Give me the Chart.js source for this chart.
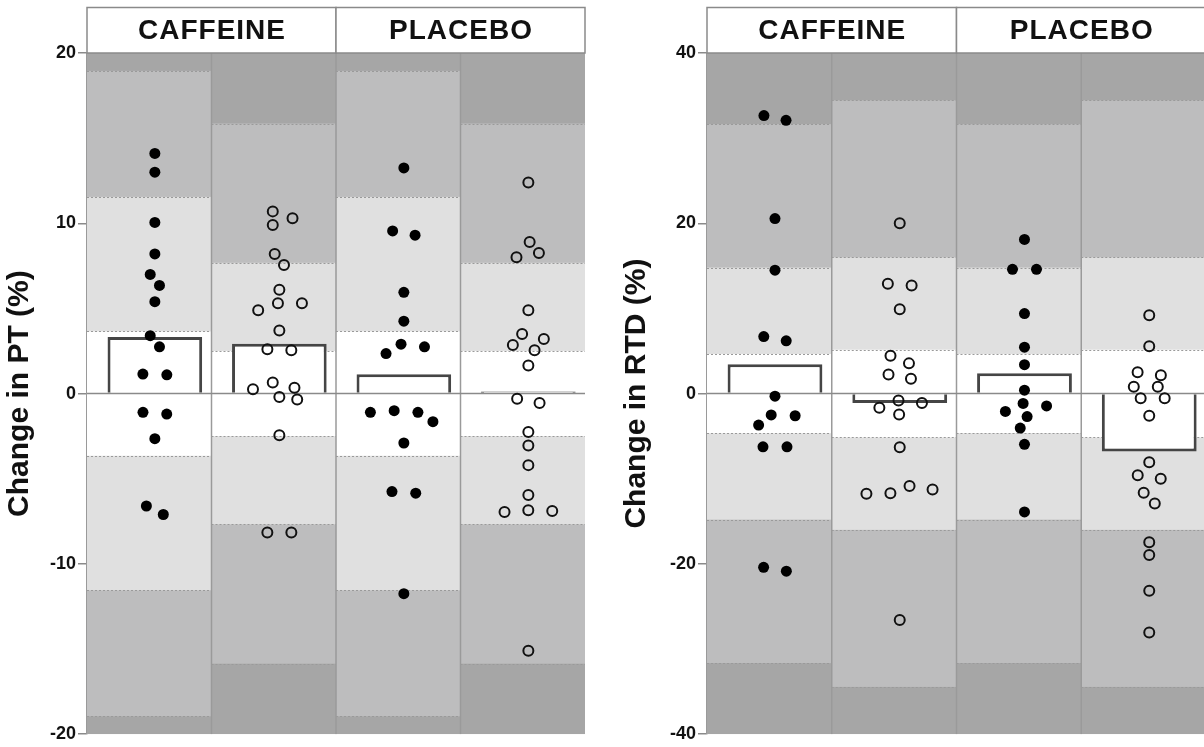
<!DOCTYPE html>
<html>
<head>
<meta charset="utf-8">
<script src="https://cdn.jsdelivr.net/npm/chart.js@4/dist/chart.umd.min.js"></script>
<style>
  html, body { margin:0; padding:0; background:#ffffff; width:1204px; height:747px; overflow:hidden; }
  canvas { position:absolute; top:0; }
  #pt { left:0; }
  #rtd { left:600px; }
</style>
</head>
<body>
<canvas id="pt" width="600" height="747"></canvas>
<canvas id="rtd" width="620" height="747"></canvas>
<script>
'use strict';

// ─── Data ─────────────────────────────────────────────────────────────────────

const groups = ['CAFFEINE', 'PLACEBO'];

// Change in PT (%)
const ptCaffeineFilled = [14.1, 13.0, 10.05, 8.2, 7.0, 6.35, 5.4, 3.4, 2.75, 1.1, 1.15, -1.1, -1.2, -2.65, -6.6, -7.1];
const ptCaffeineOpen   = [10.7, 10.3, 9.9, 8.2, 7.55, 6.1, 5.3, 5.3, 4.9, 3.7, 2.6, 2.55, 0.65, 0.25, 0.35, -0.2, -0.35, -2.45, -8.15, -8.15];
const ptPlaceboFilled  = [13.25, 9.55, 9.3, 5.95, 4.25, 2.9, 2.75, 2.35, -1.0, -1.1, -1.1, -1.65, -2.9, -5.75, -5.85, -11.75];
const ptPlaceboOpen    = [12.4, 8.9, 8.25, 8.0, 4.9, 3.5, 3.2, 2.85, 2.55, 1.65, -0.3, -0.55, -2.25, -3.05, -4.2, -5.95, -6.85, -6.9, -6.95, -15.1];
const ptMeans          = [3.32, 2.93, 1.13, 0.12];
const ptBandsFilled    = [3.65, 11.55, 18.95];
const ptBandsOpen      = [2.5, 7.68, 15.86];
const ptTicks          = [-20, -10, 0, 10, 20];

// Change in RTD (%)
const rtdCaffeineFilled = [32.65, 32.1, 20.55, 14.5, 6.7, 6.2, -0.3, -2.5, -2.6, -3.7, -6.25, -6.25, -20.4, -20.85];
const rtdCaffeineOpen   = [20.0, 12.9, 12.7, 9.9, 4.45, 3.55, 2.25, 1.75, -0.8, -1.1, -1.65, -2.45, -6.3, -10.85, -11.25, -11.7, -11.75, -26.6];
const rtdPlaceboFilled  = [18.1, 14.6, 14.6, 9.4, 5.45, 3.4, 0.4, -1.15, -1.45, -2.1, -2.7, -4.05, -5.95, -13.9];
const rtdPlaceboOpen    = [9.2, 5.55, 2.5, 2.15, 0.8, 0.8, -0.55, -0.55, -2.6, -8.05, -9.6, -10.0, -11.65, -12.9, -17.45, -18.95, -23.15, -28.05];
const rtdMeans          = [3.44, -1.1, 2.38, -6.8];
const rtdBandsFilled    = [4.65, 14.8, 31.65];
const rtdBandsOpen      = [5.15, 16.0, 34.45];
const rtdTicks          = [-40, -20, 0, 20, 40];

// ─── Style ────────────────────────────────────────────────────────────────────

const FONT = '"Liberation Sans", Arial, sans-serif';
const BAND_COLORS = ['#ffffff', '#e0e0e0', '#bdbdbe', '#a6a6a6'];
const LINE_GREY = '#9a9a9a';
const SHIFT = 0.045;          // marks sit a little right of the column centre
const SWARM_DX = 24;          // horizontal spacing of touching dots, px
const SWARM_DY = 12;          // vertical size of a dot, px

// ─── Beeswarm: spread overlapping dots sideways ───────────────────────────────

function swarm(chart) {
  const xs = chart.scales.x;
  const ys = chart.scales.y;
  const unit = xs.getPixelForValue(1) - xs.getPixelForValue(0);

  chart.data.datasets.forEach(ds => {
    if (ds.type !== 'scatter') return;
    const pts = ds.data.map(p => ({ p, py: ys.getPixelForValue(p.y), dx: 0 }));
    const placed = [];

    pts.slice().sort((a, b) => a.py - b.py).forEach(q => {
      const blocked = [];
      placed.forEach(o => {
        const dy = (q.py - o.py) / SWARM_DY;
        if (Math.abs(dy) < 1) {
          const w = SWARM_DX * Math.sqrt(1 - dy * dy);
          blocked.push([o.dx - w, o.dx + w]);
        }
      });
      const cands = [0];
      blocked.forEach(b => cands.push(b[0], b[1]));
      cands.sort((a, b) => Math.abs(a) - Math.abs(b) || b - a);
      q.dx = cands.find(c => blocked.every(b => c <= b[0] + 1e-6 || c >= b[1] - 1e-6));
      placed.push(q);
    });

    // centre every cluster of touching dots on the column
    const seen = new Set();
    placed.forEach(start => {
      if (seen.has(start)) return;
      const group = [start];
      seen.add(start);
      for (let k = 0; k < group.length; k++) {
        placed.forEach(o => {
          if (seen.has(o)) return;
          const a = (o.dx - group[k].dx) / SWARM_DX;
          const b = (o.py - group[k].py) / SWARM_DY;
          if (a * a + b * b < 1.05) { seen.add(o); group.push(o); }
        });
      }
      const mean = group.reduce((s, o) => s + o.dx, 0) / group.length;
      group.forEach(o => { o.dx -= mean; });
    });

    ds.data = pts.map(q => ({ x: q.p.x + q.dx / unit, y: q.p.y }));
  });
  chart.update('none');
}

// ─── Background bands, dividers, zero line, headers ───────────────────────────

function panelPlugin(bands) {
  return {
    id: 'panel',
    beforeDatasetsDraw(chart) {
      const { ctx, chartArea: a, scales: { x, y } } = chart;
      ctx.save();
      ctx.beginPath();
      ctx.rect(a.left, a.top, a.right - a.left, a.bottom - a.top);
      ctx.clip();
      bands.forEach((b, i) => {
        const x0 = x.getPixelForValue(i);
        const x1 = x.getPixelForValue(i + 1);
        ctx.fillStyle = BAND_COLORS[3];
        ctx.fillRect(x0, a.top, x1 - x0, a.bottom - a.top);
        for (let k = b.length - 1; k >= 0; k--) {
          const yt = y.getPixelForValue(b[k]);
          const yb = y.getPixelForValue(-b[k]);
          ctx.fillStyle = BAND_COLORS[k];
          ctx.fillRect(x0, yt, x1 - x0, yb - yt);
        }
        ctx.strokeStyle = LINE_GREY;
        ctx.lineWidth = 1;
        ctx.setLineDash([2, 2]);
        b.forEach(t => [t, -t].forEach(v => {
          const yy = Math.round(y.getPixelForValue(v)) + 0.5;
          ctx.beginPath();
          ctx.moveTo(x0, yy);
          ctx.lineTo(x1, yy);
          ctx.stroke();
        }));
        ctx.setLineDash([]);
      });
      ctx.strokeStyle = LINE_GREY;
      ctx.lineWidth = 1.5;
      for (let i = 1; i < bands.length; i++) {
        const xx = x.getPixelForValue(i);
        ctx.beginPath();
        ctx.moveTo(xx, a.top);
        ctx.lineTo(xx, a.bottom);
        ctx.stroke();
      }
      ctx.restore();
    },
    afterDatasetDraw(chart, args) {
      if (args.index !== 0) return;
      const { ctx, chartArea: a, scales: { y } } = chart;
      const y0 = y.getPixelForValue(0);
      ctx.save();
      ctx.strokeStyle = '#8a8a8a';
      ctx.lineWidth = 1.5;
      ctx.beginPath();
      ctx.moveTo(a.left, y0);
      ctx.lineTo(a.right, y0);
      ctx.stroke();
      ctx.restore();
    },
    afterDraw(chart) {
      const { ctx, chartArea: a, scales: { x } } = chart;
      const top = 7.5;
      ctx.save();
      groups.forEach((g, k) => {
        const x0 = x.getPixelForValue(2 * k);
        const x1 = x.getPixelForValue(2 * k + 2);
        ctx.fillStyle = '#ffffff';
        ctx.fillRect(x0, top, x1 - x0, a.top - top);
        ctx.strokeStyle = '#8a8a8a';
        ctx.lineWidth = 1.5;
        ctx.strokeRect(x0, top, x1 - x0, a.top - top);
        ctx.fillStyle = '#111111';
        ctx.font = `bold 28px ${FONT}`;
        ctx.letterSpacing = '1px';
        ctx.textAlign = 'center';
        ctx.textBaseline = 'middle';
        ctx.fillText(g, (x0 + x1) / 2 + 0.5, (top + a.top) / 2 + 1);
      });
      ctx.restore();
    },
  };
}

// ─── Panel builder ────────────────────────────────────────────────────────────

function makePanel(id, opts) {
  const datasets = [{
    type: 'bar',
    data: opts.means.map((m, i) => ({ x: i + 0.5 + SHIFT, y: m })),
    backgroundColor: '#ffffff',
    borderColor: '#454545',
    borderWidth: 3,
    barPercentage: 0.76,
    categoryPercentage: 1,
    order: 2,
  }];
  opts.columns.forEach((vals, i) => {
    const open = i % 2 === 1;
    datasets.push({
      type: 'scatter',
      data: vals.map(v => ({ x: i + 0.5 + SHIFT, y: v })),
      pointRadius: open ? 5 : 5.5,
      pointBackgroundColor: open ? 'rgba(0,0,0,0)' : '#000000',
      pointBorderColor: '#111111',
      pointBorderWidth: open ? 2 : 0,
      order: 1,
    });
  });

  const ticks = opts.ticks;
  const chart = new Chart(document.getElementById(id), {
    type: 'bar',
    data: { datasets },
    options: {
      animation: false,
      responsive: false,
      events: [],
      layout: { padding: { left: 0, right: opts.padRight, top: 53, bottom: 12 } },
      plugins: { legend: { display: false }, tooltip: { enabled: false } },
      scales: {
        x: {
          type: 'linear',
          min: 0,
          max: opts.columns.length,
          offset: false,
          display: false,
          ticks: { stepSize: 1 },
        },
        y: {
          type: 'linear',
          min: ticks[0],
          max: ticks[ticks.length - 1],
          afterFit: s => { s.width = opts.axisWidth; },
          afterBuildTicks: s => { s.ticks = ticks.map(v => ({ value: v })); },
          ticks: {
            color: '#111111',
            padding: 2,
            font: { family: FONT, size: 18, weight: 'bold' },
          },
          grid: { drawOnChartArea: false, tickLength: 9, color: '#8a8a8a', lineWidth: 1.5 },
          border: { color: LINE_GREY, width: 1.5 },
          title: {
            display: true,
            text: opts.title,
            color: '#111111',
            font: { family: FONT, size: 30, weight: 'bold' },
            padding: { top: opts.titlePad, bottom: 0 },
          },
        },
      },
    },
    plugins: [panelPlugin(opts.bands)],
  });
  swarm(chart);
  return chart;
}

makePanel('pt', {
  title: 'Change in PT (%)',
  columns: [ptCaffeineFilled, ptCaffeineOpen, ptPlaceboFilled, ptPlaceboOpen],
  means: ptMeans,
  bands: [ptBandsFilled, ptBandsOpen, ptBandsFilled, ptBandsOpen],
  ticks: ptTicks,
  axisWidth: 87,
  padRight: 15,
  titlePad: 2,
});

makePanel('rtd', {
  title: 'Change in RTD (%)',
  columns: [rtdCaffeineFilled, rtdCaffeineOpen, rtdPlaceboFilled, rtdPlaceboOpen],
  means: rtdMeans,
  bands: [rtdBandsFilled, rtdBandsOpen, rtdBandsFilled, rtdBandsOpen],
  ticks: rtdTicks,
  axisWidth: 107,
  padRight: 14,
  titlePad: 19,
});
</script>
</body>
</html>
